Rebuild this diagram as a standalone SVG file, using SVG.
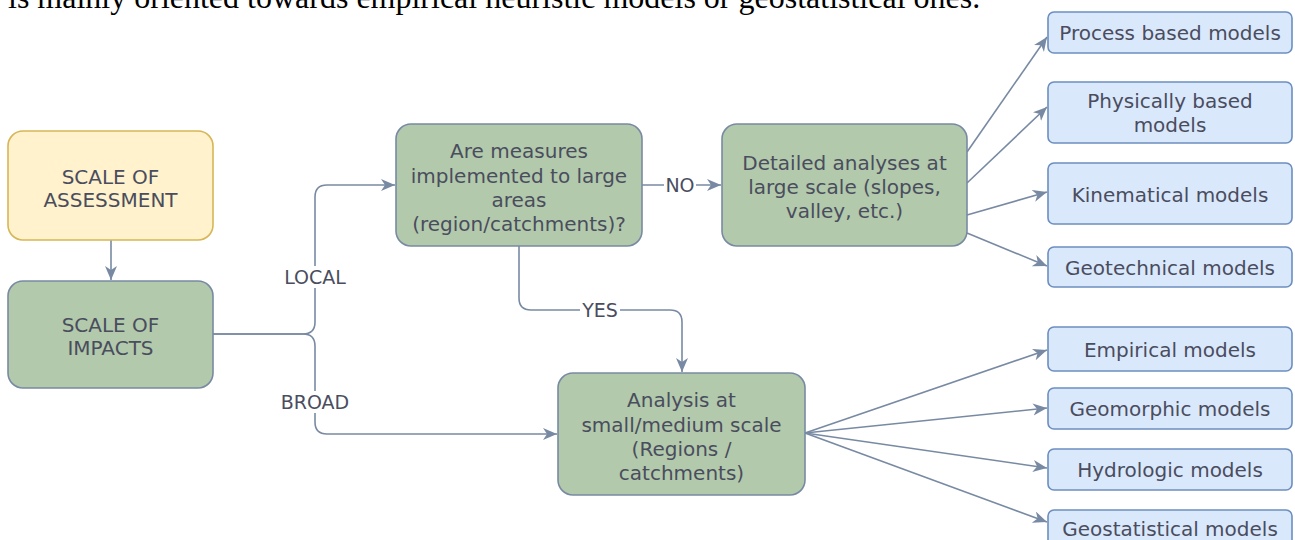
<svg xmlns="http://www.w3.org/2000/svg" width="1295" height="540" viewBox="0 0 1295 540">
<style>
.g{fill:#b2c9ab;stroke:#788aa3;stroke-width:1.6}
.y{fill:#fff2cc;stroke:#d6b656;stroke-width:1.6}
.b{fill:#dae8fc;stroke:#6c8ebf;stroke-width:1.6}
.t{font-family:"DejaVu Sans",Verdana,sans-serif;font-size:20px;fill:#4a4d5e;text-anchor:middle}
.l{font-family:"DejaVu Sans",Verdana,sans-serif;font-size:19px;fill:#4a4d5e;text-anchor:middle}
.c{fill:none;stroke:#788aa3;stroke-width:1.6;marker-end:url(#ar)}
</style>
<defs>
<marker id="ar" markerUnits="userSpaceOnUse" markerWidth="16" markerHeight="14" refX="14" refY="6" orient="auto">
<path d="M0,0 L14,6 L0,12 L4,6 Z" fill="#788aa3"/>
</marker>
</defs>
<rect width="1295" height="540" fill="#ffffff"/>
<text x="8" y="8" font-family="Liberation Serif,serif" font-size="32" fill="#000">is mainly oriented towards empirical heuristic models or geostatistical ones.</text>
<g id="connectors">
<path class="c" d="M111,240 V280"/>
<path class="c" d="M213,334 H303 Q315,334 315,322 V197 Q315,185 327,185 H395"/>
<path class="c" d="M213,334 H303 Q315,334 315,346 V422 Q315,434 327,434 H557"/>
<path class="c" d="M642,185 H721"/>
<path class="c" d="M519,246 V298 Q519,310 531,310 H670 Q682,310 682,322 V372"/>
<path class="c" d="M967,152 L1047,37"/>
<path class="c" d="M967,183 L1047,107"/>
<path class="c" d="M967,215 L1047,192"/>
<path class="c" d="M967,233 L1047,266"/>
<path class="c" d="M805,433 L1047,350"/>
<path class="c" d="M805,433 L1047,408"/>
<path class="c" d="M805,433 L1047,468"/>
<path class="c" d="M805,433 L1047,522"/>
<rect x="283" y="266" width="64" height="22" fill="#fff"/>
<text class="l" x="315" y="284">LOCAL</text>
<rect x="279" y="391" width="72" height="22" fill="#fff"/>
<text class="l" x="315" y="409">BROAD</text>
<rect x="664" y="175" width="32" height="20" fill="#fff"/>
<text class="l" x="680" y="192">NO</text>
<rect x="580" y="300" width="40" height="20" fill="#fff"/>
<text class="l" x="600" y="317">YES</text>
</g>
<g id="assessment"><rect class="y" x="8" y="131" width="205" height="109" rx="15"/>
<text class="t" x="110.5" y="184">SCALE OF</text><text class="t" x="110.5" y="207">ASSESSMENT</text></g>
<g id="impacts"><rect class="g" x="8" y="281" width="205" height="107" rx="15"/>
<text class="t" x="110.5" y="332">SCALE OF</text><text class="t" x="110.5" y="355">IMPACTS</text></g>
<g id="measures"><rect class="g" x="396" y="124" width="246" height="122" rx="15"/>
<text class="t" x="519" y="158">Are measures</text><text class="t" x="519" y="182.5">implemented to large</text><text class="t" x="519" y="207">areas</text><text class="t" x="519" y="231">(region/catchments)?</text></g>
<g id="detailed"><rect class="g" x="722" y="124" width="245" height="122" rx="15"/>
<text class="t" x="844.5" y="170">Detailed analyses at</text><text class="t" x="844.5" y="194">large scale (slopes,</text><text class="t" x="844.5" y="218">valley, etc.)</text></g>
<g id="analysis"><rect class="g" x="558" y="373" width="247" height="122" rx="15"/>
<text class="t" x="681.5" y="407">Analysis at</text><text class="t" x="681.5" y="431.5">small/medium scale</text><text class="t" x="681.5" y="455.5">(Regions /</text><text class="t" x="681.5" y="479.5">catchments)</text></g>
<g id="process"><rect class="b" x="1048" y="12" width="244" height="41" rx="6"/><text class="t" x="1170" y="40">Process based models</text></g>
<g id="physically"><rect class="b" x="1048" y="82" width="244" height="61" rx="6"/><text class="t" x="1170" y="108">Physically based</text><text class="t" x="1170" y="132">models</text></g>
<g id="kinematical"><rect class="b" x="1048" y="163" width="244" height="61" rx="6"/><text class="t" x="1170" y="201.5">Kinematical models</text></g>
<g id="geotechnical"><rect class="b" x="1048" y="247" width="244" height="40" rx="6"/><text class="t" x="1170" y="275">Geotechnical models</text></g>
<g id="empirical"><rect class="b" x="1048" y="327" width="244" height="44" rx="6"/><text class="t" x="1170" y="357">Empirical models</text></g>
<g id="geomorphic"><rect class="b" x="1048" y="388" width="244" height="41" rx="6"/><text class="t" x="1170" y="416">Geomorphic models</text></g>
<g id="hydrologic"><rect class="b" x="1048" y="449" width="244" height="41" rx="6"/><text class="t" x="1170" y="477">Hydrologic models</text></g>
<g id="geostatistical"><rect class="b" x="1048" y="510" width="244" height="40" rx="6"/><text class="t" x="1170" y="536">Geostatistical models</text></g>
</svg>
